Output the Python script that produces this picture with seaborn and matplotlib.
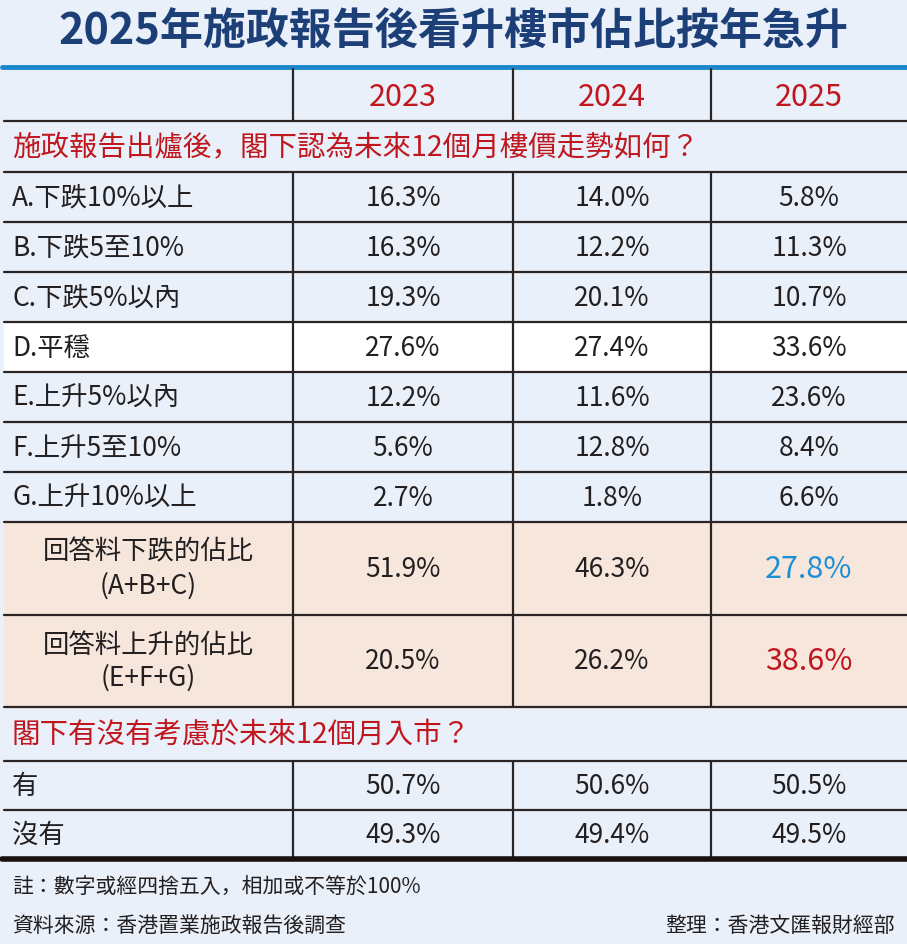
import matplotlib
matplotlib.use("Agg")
import matplotlib.pyplot as plt
from matplotlib import font_manager
import seaborn as sns
import numpy as np

sns.set_theme(style="white")
_names = {f.name for f in font_manager.fontManager.ttflist}
CJK = next((n for n in ["Noto Sans CJK TC", "Noto Sans CJK JP", "Noto Sans CJK SC",
                        "Noto Sans CJK KR"] if n in _names), "DejaVu Sans")
plt.rcParams["font.family"] = [CJK]
plt.rcParams["font.sans-serif"] = [CJK]

title = "2025年施政報告後看升樓市佔比按年急升"
years = ["2023", "2024", "2025"]
section1 = "施政報告出爐後，閣下認為未來12個月樓價走勢如何？"
labels1 = ["A.下跌10%以上", "B.下跌5至10%", "C.下跌5%以內", "D.平穩",
           "E.上升5%以內", "F.上升5至10%", "G.上升10%以上"]
vals2023 = ["16.3%", "16.3%", "19.3%", "27.6%", "12.2%", "5.6%", "2.7%"]
vals2024 = ["14.0%", "12.2%", "20.1%", "27.4%", "11.6%", "12.8%", "1.8%"]
vals2025 = ["5.8%", "11.3%", "10.7%", "33.6%", "23.6%", "8.4%", "6.6%"]
sum_labels = ["回答料下跌的佔比\n(A+B+C)", "回答料上升的佔比\n(E+F+G)"]
sum2023 = ["51.9%", "20.5%"]
sum2024 = ["46.3%", "26.2%"]
sum2025 = ["27.8%", "38.6%"]
section2 = "閣下有沒有考慮於未來12個月入市？"
labels2 = ["有", "沒有"]
buy2023 = ["50.7%", "49.3%"]
buy2024 = ["50.6%", "49.4%"]
buy2025 = ["50.5%", "49.5%"]
note = "註：數字或經四捨五入，相加或不等於100%"
source = "資料來源：香港置業施政報告後調查"
editor = "整理：香港文匯報財經部"

BG = "#e9f0f9"; PEACH = "#f6e6dc"; RED = "#c0171f"; BLUE = "#1d8fd6"
NAVY = "#1d3f78"; LINE = "#2b2424"; TXT = "#231f20"
W, H = 907, 945
fig = plt.figure(figsize=(W/100, H/100), dpi=100, facecolor=BG)
ax = fig.add_axes([0, 0, 1, 1])
ax.set_xlim(0, W); ax.set_ylim(H, 0); ax.axis("off")
ax.set_facecolor(BG)

colx = [293, 513, 711, W]
cx = [(colx[i] + colx[i+1]) / 2 for i in range(3)]
FS = 19

ax.text(W/2, 32, title, ha="center", va="center", fontsize=31, fontweight="bold", color=NAVY)
ax.plot([2, W], [68, 68], color="#1a87cc", lw=3.5)

def hline(y, lw=1.6):
    ax.plot([4, W], [y, y], color=LINE, lw=lw)

def vlines(y0, y1):
    for x in colx[:3]:
        ax.plot([x, x], [y0, y1], color=LINE, lw=1.6)

for i, y in enumerate(years):
    ax.text(cx[i], 97, y, ha="center", va="center", fontsize=22, color=RED)
vlines(70, 122)
hline(122)
ax.text(12, 148, section1, ha="left", va="center", fontsize=20.5, color=RED)
hline(173)

y = 173; rh = 50
for k, lab in enumerate(labels1):
    if lab.startswith("D"):
        ax.add_patch(plt.Rectangle((4, y), W-4, rh, color="white", zorder=0))
    ax.text(12, y + rh/2, lab, ha="left", va="center", fontsize=FS, color=TXT)
    for i, v in enumerate([vals2023[k], vals2024[k], vals2025[k]]):
        ax.text(cx[i], y + rh/2, v, ha="center", va="center", fontsize=FS, color=TXT)
    vlines(y, y + rh)
    y += rh
    hline(y)

sh = 92.5
for k, lab in enumerate(sum_labels):
    ax.add_patch(plt.Rectangle((4, y), W-4, sh, color=PEACH, zorder=0))
    ax.text(148, y + sh/2, lab, ha="center", va="center", fontsize=FS, color=TXT, linespacing=1.3)
    row = [sum2023[k], sum2024[k], sum2025[k]]
    for i, v in enumerate(row):
        if i == 2:
            ax.text(cx[i], y + sh/2, v, ha="center", va="center", fontsize=22,
                    color=BLUE if k == 0 else RED)
        else:
            ax.text(cx[i], y + sh/2, v, ha="center", va="center", fontsize=FS, color=TXT)
    vlines(y, y + sh)
    y += sh
    hline(y)

ax.text(12, 735, section2, ha="left", va="center", fontsize=20.5, color=RED)
y = 762
hline(y)
for k, lab in enumerate(labels2):
    ax.text(12, y + 24.5, lab, ha="left", va="center", fontsize=FS, color=TXT)
    for i, v in enumerate([buy2023[k], buy2024[k], buy2025[k]]):
        ax.text(cx[i], y + 24.5, v, ha="center", va="center", fontsize=FS, color=TXT)
    vlines(y, y + 49)
    y += 49
    if k == 0:
        hline(y)
ax.plot([2, W], [y, y], color="#1a1010", lw=4)

ax.text(12, 887, note, ha="left", va="center", fontsize=15, color=TXT)
ax.text(12, 926, source, ha="left", va="center", fontsize=15, color=TXT)
ax.text(895, 926, editor, ha="right", va="center", fontsize=15, color=TXT)

fig.savefig("out.png", dpi=100, facecolor=BG)
